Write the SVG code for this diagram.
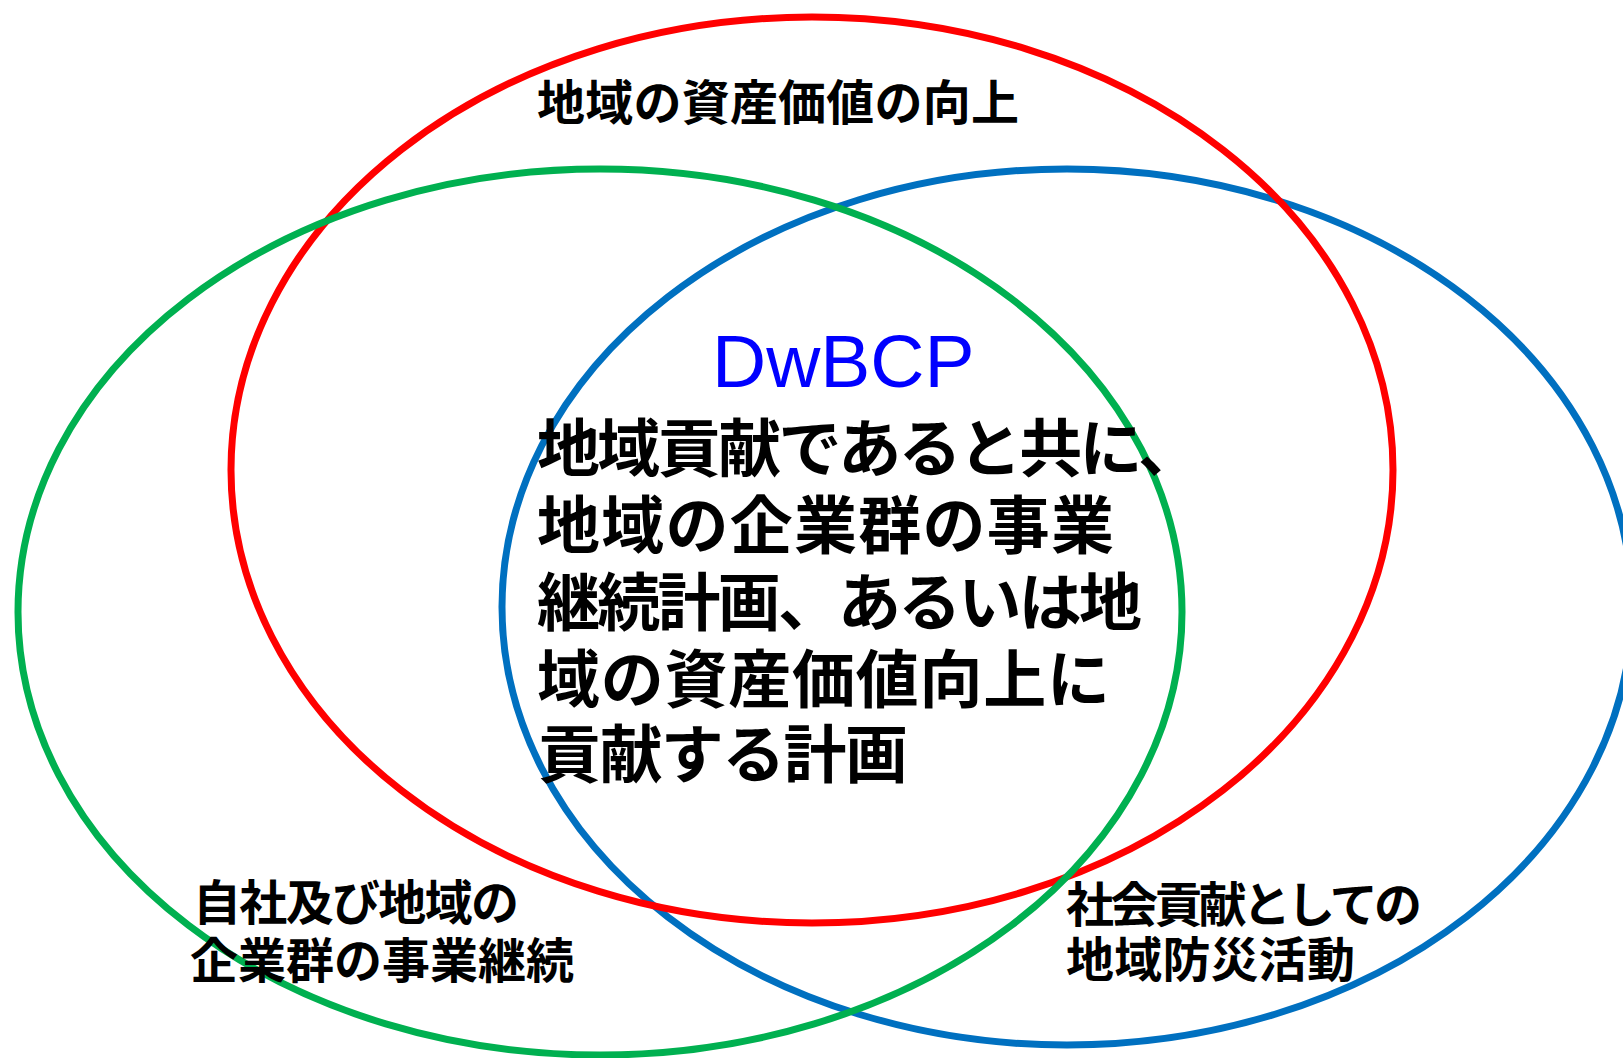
<svg xmlns="http://www.w3.org/2000/svg" width="1623" height="1058" viewBox="0 0 1623 1058">
  <style>
    .ring { fill: none; stroke-width: 7; }
    .lbl { font-family: "Noto Sans CJK JP", "Noto Sans CJK SC", sans-serif; font-weight: bold; font-size: 48px; fill: #000000; }
    .main { font-family: "Noto Sans CJK JP", "Noto Sans CJK SC", sans-serif; font-weight: bold; font-size: 63px; fill: #000000; }
    .title { font-family: "Liberation Sans", Arial, sans-serif; font-size: 75px; fill: #0000FF; }
  </style>
  <rect x="0" y="0" width="1623" height="1058" fill="#FFFFFF"/>
  <g id="disaster-prevention">
    <ellipse class="ring" cx="1067" cy="607" rx="565" ry="438" stroke="#0070C0"/>
  </g>
  <g id="asset-value">
    <ellipse class="ring" cx="812" cy="470" rx="581" ry="453" stroke="#FF0000"/>
  </g>
  <g id="business-continuity">
    <ellipse class="ring" cx="600" cy="612" rx="582" ry="443" stroke="#00B050"/>
  </g>
  <g id="labels">
    <text class="lbl" x="537" y="120" textLength="482" lengthAdjust="spacing">地域の資産価値の向上</text>
    <text class="lbl" x="193" y="920" textLength="326" lengthAdjust="spacing">自社及び地域の</text>
    <text class="lbl" x="190" y="978" textLength="384" lengthAdjust="spacing">企業群の事業継続</text>
    <text class="lbl" x="1066" y="922" textLength="356" lengthAdjust="spacing">社会貢献としての</text>
    <text class="lbl" x="1066" y="977" textLength="289" lengthAdjust="spacing">地域防災活動</text>
  </g>
  <g id="dwbcp">
    <text class="title" x="712" y="387">DwBCP</text>
    <text class="main" x="537" y="471" textLength="664" lengthAdjust="spacing">地域貢献であると共に、</text>
    <text class="main" x="537" y="548" textLength="577" lengthAdjust="spacing">地域の企業群の事業</text>
    <text class="main" x="537" y="625" textLength="605" lengthAdjust="spacing">継続計画、あるいは地</text>
    <text class="main" x="537" y="702" textLength="573" lengthAdjust="spacing">域の資産価値向上に</text>
    <text class="main" x="538" y="777" textLength="370" lengthAdjust="spacing">貢献する計画</text>
  </g>
</svg>
